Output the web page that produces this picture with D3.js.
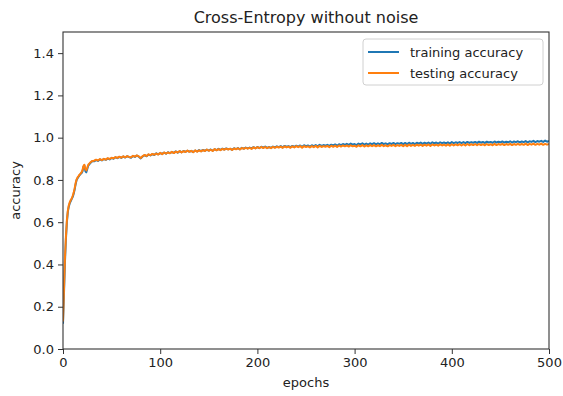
<!DOCTYPE html>
<html>
<head>
<meta charset="utf-8">
<script src="https://cdn.jsdelivr.net/npm/d3@7"></script>
<style>
  body { margin: 0; background: #fff; }
  text { font-family: "DejaVu Sans", sans-serif; fill: #222; }
</style>
</head>
<body>
<svg class="chart"></svg>
<script>
// epochs: every epoch for the first 30, then every second epoch
var epochs = d3.range(0, 31).concat(d3.range(32, 501, 2));

var train_acc = [
  0.12,0.26,0.41,0.52,0.60,0.65,0.675,0.69,0.70,0.71,0.72,0.735,0.755,0.78,0.80,0.808,0.815,0.822,0.828,0.832,0.84,0.862,0.868,0.842,0.836,0.852,0.868,0.874,0.879,0.884,0.888,
  0.888,0.894,0.89,0.897,0.892,0.899,0.895,0.901,0.897,0.904,
  0.9,0.907,0.903,0.909,0.904,0.911,0.906,0.912,0.908,0.905,
  0.913,0.909,0.915,0.91,0.902,0.911,0.917,0.912,0.92,0.916,
  0.922,0.918,0.926,0.921,0.927,0.923,0.929,0.924,0.931,0.927,
  0.932,0.928,0.935,0.929,0.936,0.931,0.937,0.933,0.938,0.934,
  0.937,0.932,0.939,0.935,0.941,0.936,0.942,0.938,0.943,0.939,
  0.944,0.938,0.945,0.941,0.947,0.942,0.948,0.944,0.949,0.945,
  0.947,0.943,0.95,0.946,0.951,0.945,0.952,0.948,0.953,0.949,
  0.953,0.949,0.955,0.95,0.956,0.951,0.957,0.953,0.958,0.952,
  0.956,0.952,0.958,0.954,0.959,0.955,0.96,0.954,0.961,0.957,
  0.96,0.955,0.961,0.957,0.962,0.958,0.963,0.957,0.964,0.96,
  0.963,0.958,0.964,0.96,0.965,0.959,0.966,0.961,0.965,0.962,
  0.966,0.961,0.967,0.963,0.968,0.962,0.969,0.965,0.97,0.966,
  0.971,0.966,0.972,0.967,0.97,0.965,0.972,0.968,0.973,0.967,
  0.972,0.967,0.973,0.969,0.974,0.968,0.973,0.969,0.975,0.97,
  0.973,0.968,0.974,0.97,0.975,0.969,0.974,0.971,0.975,0.97,
  0.975,0.97,0.976,0.971,0.975,0.97,0.976,0.972,0.977,0.971,
  0.976,0.972,0.977,0.971,0.978,0.973,0.977,0.972,0.978,0.974,
  0.977,0.973,0.978,0.972,0.979,0.974,0.978,0.975,0.979,0.974,
  0.979,0.974,0.98,0.975,0.979,0.976,0.98,0.975,0.981,0.976,
  0.98,0.975,0.981,0.977,0.98,0.976,0.982,0.977,0.981,0.978,
  0.982,0.977,0.981,0.978,0.983,0.977,0.982,0.979,0.983,0.978,
  0.982,0.979,0.984,0.978,0.983,0.98,0.985,0.979,0.984,0.981,
  0.985,0.98,0.986,0.981,0.984
];

var test_acc = [
  0.13,0.28,0.43,0.53,0.61,0.655,0.68,0.695,0.705,0.712,0.725,0.74,0.76,0.785,0.802,0.812,0.818,0.825,0.83,0.836,0.845,0.866,0.872,0.85,0.845,0.858,0.872,0.877,0.882,0.886,0.89,
  0.891,0.896,0.892,0.899,0.894,0.9,0.896,0.903,0.899,0.905,
  0.902,0.908,0.904,0.91,0.905,0.912,0.907,0.913,0.909,0.907,
  0.914,0.91,0.916,0.911,0.904,0.913,0.918,0.913,0.921,0.917,
  0.923,0.919,0.925,0.92,0.928,0.922,0.93,0.925,0.93,0.926,
  0.933,0.927,0.934,0.93,0.937,0.93,0.936,0.932,0.939,0.933,
  0.938,0.931,0.94,0.934,0.94,0.935,0.941,0.937,0.944,0.938,
  0.943,0.937,0.946,0.94,0.946,0.941,0.947,0.943,0.948,0.944,
  0.948,0.942,0.949,0.945,0.95,0.944,0.951,0.947,0.952,0.948,
  0.952,0.947,0.954,0.949,0.955,0.95,0.956,0.951,0.956,0.95,
  0.955,0.95,0.957,0.952,0.957,0.953,0.958,0.952,0.959,0.954,
  0.958,0.952,0.959,0.954,0.96,0.955,0.96,0.953,0.96,0.956,
  0.959,0.954,0.96,0.955,0.961,0.954,0.961,0.956,0.96,0.957,
  0.961,0.955,0.962,0.957,0.962,0.956,0.963,0.958,0.963,0.959,
  0.963,0.958,0.964,0.959,0.962,0.957,0.964,0.959,0.965,0.958,
  0.964,0.959,0.965,0.96,0.965,0.959,0.964,0.96,0.966,0.96,
  0.964,0.959,0.965,0.961,0.966,0.96,0.965,0.961,0.966,0.96,
  0.966,0.96,0.967,0.961,0.966,0.961,0.967,0.962,0.967,0.961,
  0.967,0.962,0.968,0.961,0.968,0.963,0.967,0.962,0.968,0.963,
  0.967,0.962,0.968,0.962,0.969,0.963,0.968,0.964,0.969,0.963,
  0.969,0.963,0.97,0.964,0.969,0.965,0.97,0.964,0.97,0.965,
  0.969,0.964,0.97,0.965,0.969,0.964,0.971,0.965,0.97,0.966,
  0.971,0.965,0.97,0.966,0.971,0.965,0.97,0.966,0.971,0.966,
  0.97,0.966,0.972,0.965,0.971,0.967,0.972,0.966,0.971,0.967,
  0.972,0.966,0.971,0.967,0.97
];

var x_ticks = [0, 100, 200, 300, 400, 500];
var y_ticks = [0.0, 0.2, 0.4, 0.6, 0.8, 1.0, 1.2, 1.4];
var series_names = ["training accuracy", "testing accuracy"];
var series_colors = ["#1f77b4", "#ff7f0e"];

var width = 563, height = 396;
var margin = {top: 32, right: 14, bottom: 47, left: 63};
var w = width - margin.left - margin.right;
var h = height - margin.top - margin.bottom;

var svg = d3.select(".chart")
    .attr("width", width)
    .attr("height", height);

var x = d3.scaleLinear().domain([0, 500]).range([0, w]);
var y = d3.scaleLinear().domain([0, 1.5]).range([h, 0]);

var g = svg.append("g")
    .attr("transform", "translate(" + margin.left + "," + margin.top + ")");

var series = [train_acc, test_acc];

var line = d3.line()
    .x(function(d, i) { return x(epochs[i]); })
    .y(function(d) { return y(d); });

g.append("clipPath").attr("id", "clip")
  .append("rect").attr("width", w).attr("height", h);

g.selectAll(".series")
    .data(series)
  .enter().append("path")
    .attr("class", "series")
    .attr("clip-path", "url(#clip)")
    .attr("fill", "none")
    .attr("stroke", function(d, i) { return series_colors[i]; })
    .attr("stroke-width", 2)
    .attr("stroke-linejoin", "round")
    .attr("d", line);

// axes
var xAxis = g.append("g")
    .attr("transform", "translate(0," + h + ")")
    .call(d3.axisBottom(x).tickValues(x_ticks).tickSize(5).tickPadding(4).tickFormat(d3.format("d")));
var yAxis = g.append("g")
    .call(d3.axisLeft(y).tickValues(y_ticks).tickSize(5).tickPadding(4).tickFormat(d3.format(".1f")));

[xAxis, yAxis].forEach(function(ax) {
  ax.select(".domain").remove();
  ax.selectAll("line").attr("stroke", "#333").attr("stroke-width", 1);
  ax.selectAll("text").style("font-size", "13px").style("fill", "#222").style("font-family", "DejaVu Sans, sans-serif");
});

// frame
g.append("rect")
    .attr("width", w)
    .attr("height", h)
    .attr("fill", "none")
    .attr("stroke", "#333")
    .attr("stroke-width", 1.1);

// title & labels
svg.append("text")
    .attr("x", margin.left + w / 2)
    .attr("y", 23)
    .attr("text-anchor", "middle")
    .style("font-size", "16px")
    .text("Cross-Entropy without noise");

svg.append("text")
    .attr("x", margin.left + w / 2)
    .attr("y", 387)
    .attr("text-anchor", "middle")
    .style("font-size", "13px")
    .text("epochs");

svg.append("text")
    .attr("transform", "translate(20," + (margin.top + h / 2) + ") rotate(-90)")
    .attr("text-anchor", "middle")
    .style("font-size", "13px")
    .text("accuracy");

// legend
var legend = svg.append("g")
    .attr("transform", "translate(363,39)");
legend.append("rect")
    .attr("width", 180)
    .attr("height", 46)
    .attr("rx", 3)
    .attr("fill", "#fff")
    .attr("fill-opacity", 0.8)
    .attr("stroke", "#d0d0d0");
var item = legend.selectAll(".item")
    .data(series_names)
  .enter().append("g")
    .attr("class", "item")
    .attr("transform", function(d, i) { return "translate(0," + (13 + i * 21) + ")"; });
item.append("line")
    .attr("x1", 5).attr("x2", 36)
    .attr("stroke", function(d, i) { return series_colors[i]; })
    .attr("stroke-width", 2);
item.append("text")
    .attr("x", 47)
    .attr("dy", "0.35em")
    .style("font-size", "13px")
    .text(function(d) { return d; });
</script>
</body>
</html>
